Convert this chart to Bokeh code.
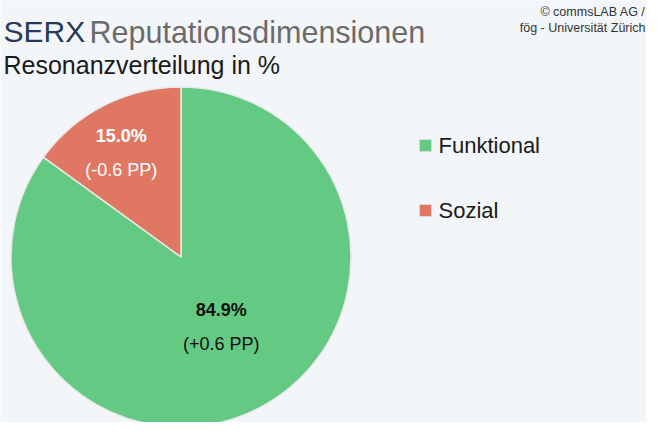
import numpy as np
from bokeh.plotting import figure
from bokeh.models import Range1d, Label, ColumnDataSource
from bokeh.core.properties import value
from bokeh.embed import file_html
from bokeh.resources import INLINE

# ---- data ----
categories = ["Funktional", "Sozial"]
shares = [84.9, 15.0]
share_labels = ["84.9%", "15.0%"]
changes = ["(+0.6 PP)", "(-0.6 PP)"]
colors = ["#64c983", "#e07762"]
label_colors = ["#111111", "#ffffff"]

title_brand = "SERX"
title_rest = "Reputationsdimensionen"
subtitle = "Resonanzverteilung in %"
copyright_lines = ["© commsLAB AG /", "fög - Universität Zürich"]

# ---- layout / style ----
W, H = 646, 422
FONT = "Liberation Sans"
BG = "#f3f6f8"
cx, cy, R = 180.5, 165.5, 170
label_radius = [80.6, 119.6]
label_shift_deg = 3.0
line_gap = 17

p = figure(width=W, height=H, x_range=Range1d(0, W), y_range=Range1d(0, H),
           output_backend="svg", toolbar_location=None, min_border=0)
p.axis.visible = False
p.xgrid.visible = False
p.ygrid.visible = False
p.outline_line_color = None
p.background_fill_color = BG
p.border_fill_color = BG

# ---- pie (clockwise from 12 o'clock) ----
fr = np.array(shares) / sum(shares)
cum = np.concatenate([[0.0], np.cumsum(fr)])
ends = np.deg2rad(90 - 360 * cum[:-1])
starts = np.deg2rad(90 - 360 * cum[1:])
mids = (starts + ends) / 2 + np.deg2rad(label_shift_deg)

src = ColumnDataSource(dict(start=starts, end=ends, color=colors, cat=categories))
p.wedge(x=cx, y=cy, radius=R, start_angle="start", end_angle="end",
        fill_color="color", line_color="#e8e8e8", line_width=1.5, source=src)

lx = cx + np.array(label_radius) * np.cos(mids)
ly = cy + np.array(label_radius) * np.sin(mids)
lsrc = ColumnDataSource(dict(x=lx, y1=ly + line_gap, y2=ly - line_gap,
                             pct=share_labels, chg=changes, col=label_colors))
p.text(x="x", y="y1", text="pct", text_color="col", source=lsrc,
       text_font=value(FONT), text_font_size="18px", text_font_style="bold",
       text_align="center", text_baseline="middle")
p.text(x="x", y="y2", text="chg", text_color="col", source=lsrc,
       text_font=value(FONT), text_font_size="18px",
       text_align="center", text_baseline="middle")

# ---- legend (manual) ----
leg_x, leg_y0, leg_step = 425, 277, -65
leg_y = [leg_y0 + i * leg_step for i in range(len(categories))]
gsrc = ColumnDataSource(dict(x=[leg_x] * len(categories), y=leg_y, c=colors,
                             tx=[leg_x + 13] * len(categories), t=categories))
p.rect(x="x", y="y", width=12, height=12, fill_color="c", line_color="#d8d8d8",
       line_width=1, source=gsrc)
p.text(x="tx", y="y", text="t", source=gsrc, text_font=value(FONT),
       text_font_size="22px", text_color="#1a1a1a", text_baseline="middle",
       text_align="left")

# ---- titles ----
p.add_layout(Label(x=3, y=391, text=title_brand, text_font=FONT, text_font_size="30px",
                   text_color="#283a5b", text_baseline="alphabetic"))
p.add_layout(Label(x=89, y=391, text=title_rest, text_font=FONT, text_font_size="30.5px",
                   text_color="#6b6b6b", text_baseline="alphabetic"))
p.add_layout(Label(x=3, y=358, text=subtitle, text_font=FONT, text_font_size="25px",
                   text_color="#1a1a1a", text_baseline="alphabetic"))
for i, line in enumerate(copyright_lines):
    p.add_layout(Label(x=645, y=411 - 16 * i, text=line, text_font=FONT,
                       text_font_size="12.5px", text_color="#333333",
                       text_align="right", text_baseline="alphabetic"))

open("out.html", "w").write(file_html(p, INLINE))
